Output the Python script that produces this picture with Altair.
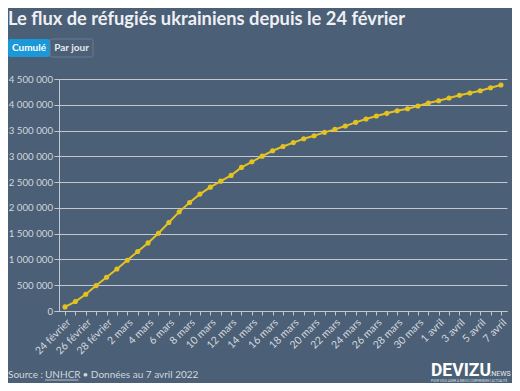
import json
import altair as alt
import pandas as pd

# ---- data ----
months = [("février", list(range(24, 29))), ("mars", list(range(1, 32))), ("avril", list(range(1, 8)))]
day_labels = []
for mname, days in months:
    for d in days:
        day_labels.append(f"{d} {mname}")

refugees = [
    80000, 183000, 324000, 493000, 655000, 816000, 985000, 1154000, 1321000, 1509000,
    1717000, 1923000, 2105000, 2267000, 2402000, 2519000, 2630000, 2785000, 2894000, 3004000,
    3108000, 3190000, 3267000, 3340000, 3399000, 3465000, 3523000, 3587000, 3659000, 3723000,
    3781000, 3834000, 3884000, 3923000, 3976000, 4034000, 4078000, 4131000, 4184000, 4228000,
    4273000, 4331000, 4383000,
]
y_ticks = [0, 500000, 1000000, 1500000, 2000000, 2500000, 3000000, 3500000, 4000000, 4500000]

title_text = "Le flux de réfugiés ukrainiens depuis le 24 février"
source_pre = "Source :"
source_link = "UNHCR"
source_post = "• Données au 7 avril 2022"

df = pd.DataFrame({"jour": day_labels, "refugies": refugees})

BG = "#4b5f77"
GRID = "#c3c8cf"
LABEL = "#d3d7dc"
YELLOW = "#e4c220"
FONT = "Lato"

shown = day_labels[::2]
label_expr = f"indexof({json.dumps(shown, ensure_ascii=False)}, datum.value) >= 0 ? datum.value : ''"

x_enc = alt.X(
    "jour:O",
    sort=day_labels,
    scale=alt.Scale(type="point", padding=0.58),
    axis=alt.Axis(
        title=None, labelAngle=-45, labelExpr=label_expr, grid=False,
        domainColor=GRID, tickColor=GRID, tickSize=4, labelColor=LABEL,
        labelFontSize=10.5, labelFont=FONT, labelPadding=2, labelAlign="right",
        labelBaseline="top",
    ),
)
y_enc = alt.Y(
    "refugies:Q",
    scale=alt.Scale(domain=[0, 4500000], nice=False),
    axis=alt.Axis(
        title=None, values=y_ticks, grid=True, gridColor=GRID, gridWidth=1.2,
        domainColor=GRID, tickColor=GRID, tickSize=5, labelColor=LABEL,
        labelFontSize=9.7, labelFont=FONT, labelPadding=1.5,
        labelExpr="replace(replace(format(datum.value, ','), ',', ' '), ',', ' ')",
    ),
)

line = alt.Chart(df).mark_line(
    color=YELLOW, strokeWidth=2,
    point=alt.OverlayMarkDef(color=YELLOW, size=26, filled=True, opacity=1),
).encode(x=x_enc, y=y_enc)

one = alt.Data(values=[{"a": 1}])

title = alt.Chart(one).mark_text(
    text=title_text, align="left", baseline="alphabetic", font=FONT,
    fontWeight="bold", fontSize=18.3, color="#eef0f3",
).encode(x=alt.value(-51), y=alt.value(-54))

btn1 = alt.Chart(one).mark_rect(color="#1b98d8", cornerRadius=2).encode(
    x=alt.value(-51), x2=alt.value(-9), y=alt.value(-40), y2=alt.value(-22))
btn2 = alt.Chart(one).mark_rect(fill=BG, stroke="#6d7d91", strokeWidth=1, cornerRadius=2).encode(
    x=alt.value(-9), x2=alt.value(34), y=alt.value(-40), y2=alt.value(-22))
btn1_t = alt.Chart(one).mark_text(
    text="Cumulé", align="center", baseline="middle", font=FONT, fontWeight="bold",
    fontSize=10, color="#ffffff").encode(x=alt.value(-30), y=alt.value(-31))
btn2_t = alt.Chart(one).mark_text(
    text="Par jour", align="center", baseline="middle", font=FONT, fontWeight="bold",
    fontSize=10, color="#e6e9ed").encode(x=alt.value(12.5), y=alt.value(-31))

src1 = alt.Chart(one).mark_text(
    text=source_pre, align="left", baseline="alphabetic", font=FONT,
    fontSize=10, color=LABEL).encode(x=alt.value(-51), y=alt.value(299))
src2 = alt.Chart(one).mark_text(
    text=source_link, align="left", baseline="alphabetic", font=FONT,
    fontSize=10, color=LABEL).encode(x=alt.value(-14), y=alt.value(299))
src3 = alt.Chart(one).mark_text(
    text=source_post, align="left", baseline="alphabetic", font=FONT,
    fontSize=10, color=LABEL).encode(x=alt.value(23.5), y=alt.value(299))
underline = alt.Chart(one).mark_rule(color=LABEL, strokeWidth=0.8).encode(
    x=alt.value(-14), x2=alt.value(19.5), y=alt.value(301))

logo1 = alt.Chart(one).mark_text(
    text="DEVIZU", align="left", baseline="alphabetic", font="Roboto",
    fontWeight="bold", fontSize=17.5, color="#ffffff").encode(x=alt.value(372), y=alt.value(297))
logo2 = alt.Chart(one).mark_text(
    text=".NEWS", align="left", baseline="alphabetic", font="Roboto",
    fontSize=7, color="#e8ebef").encode(x=alt.value(430.5), y=alt.value(297))
logo3 = alt.Chart(one).mark_text(
    text="POUR VOUS AIDER À MIEUX COMPRENDRE L'ACTUALITÉ", align="left", baseline="top",
    font="Roboto", fontSize=3, color="#dfe3e8").encode(x=alt.value(372), y=alt.value(301))

chart = alt.layer(
    line, title, btn1, btn2, btn1_t, btn2_t, src1, src2, src3, underline, logo1, logo2, logo3
).properties(
    width=448, height=232, background=BG,
    padding={"left": 51, "top": 71, "right": 5, "bottom": 72},
    autosize=alt.AutoSizeParams(type="none"),
).configure_view(stroke=None)

chart.save("out.html", embed_options={"renderer": "svg", "actions": False})
